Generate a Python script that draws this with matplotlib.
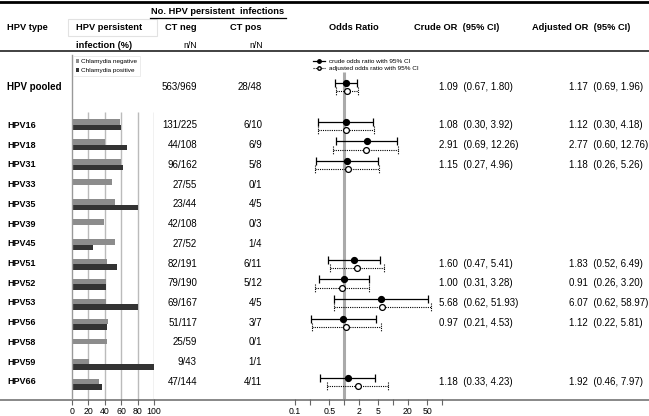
import numpy as np
import matplotlib
matplotlib.use("Agg")
import matplotlib.pyplot as plt
from matplotlib.patches import Rectangle
from matplotlib.lines import Line2D

plt.rcParams['font.family'] = ['Liberation Sans', 'DejaVu Sans']

# ---------------- data ----------------
hpv_types = ["HPV16", "HPV18", "HPV31", "HPV33", "HPV35", "HPV39", "HPV45",
             "HPV51", "HPV52", "HPV53", "HPV56", "HPV58", "HPV59", "HPV66"]
pct_ct_neg = [58.2, 40.7, 59.3, 49.1, 52.3, 38.9, 51.9, 42.9, 41.6, 41.3, 43.6, 42.4, 20.9, 32.6]
pct_ct_pos = [60.0, 66.7, 62.5, 0.0, 80.0, 0.0, 25.0, 54.5, 41.7, 80.0, 42.9, 0.0, 100.0, 36.4]
ct_neg_frac = ["131/225", "44/108", "96/162", "27/55", "23/44", "42/108", "27/52",
               "82/191", "79/190", "69/167", "51/117", "25/59", "9/43", "47/144"]
ct_pos_frac = ["6/10", "6/9", "5/8", "0/1", "4/5", "0/3", "1/4",
               "6/11", "5/12", "4/5", "3/7", "0/1", "1/1", "4/11"]
pooled_label = "HPV pooled"
pooled_neg_frac = "563/969"
pooled_pos_frac = "28/48"

# odds ratios (rows with estimates); pooled first
or_rows = ["HPV pooled", "HPV16", "HPV18", "HPV31", "HPV51", "HPV52", "HPV53", "HPV56", "HPV66"]
crude_or = [1.09, 1.08, 2.91, 1.15, 1.60, 1.00, 5.68, 0.97, 1.18]
crude_lo = [0.67, 0.30, 0.69, 0.27, 0.47, 0.31, 0.62, 0.21, 0.33]
crude_hi = [1.80, 3.92, 12.26, 4.96, 5.41, 3.28, 51.93, 4.53, 4.23]
adj_or = [1.17, 1.12, 2.77, 1.18, 1.83, 0.91, 6.07, 1.12, 1.92]
adj_lo = [0.69, 0.30, 0.60, 0.26, 0.52, 0.26, 0.62, 0.22, 0.46]
adj_hi = [1.96, 4.18, 12.76, 5.26, 6.49, 3.20, 58.97, 5.81, 7.97]

bar_ticks = [0, 20, 40, 60, 80, 100]
or_ticks = [0.1, 0.2, 0.5, 1, 2, 5, 10, 20, 50, 100]
or_ticklabels = ["0.1", "", "0.5", "", "2", "5", "", "20", "50", ""]

# ---------------- layout ----------------
W, H = 649, 416
fig = plt.figure(figsize=(W / 100, H / 100), dpi=100)

row0_px = 125.5     # pixel y of first HPV row (labels / forest)
row_step = 19.72
pooled_idx = -1.95
ax_top_px, ax_bot_px = 55, 399

def make_ylim(r0, step):
    return ((ax_bot_px - r0) / step, (ax_top_px - r0) / step)

ylim = make_ylim(row0_px, row_step)
ylim_bars = make_ylim(124.7, 19.97)

def row_px(i):
    return row0_px + row_step * i

def fig_rect(x0, x1):
    return [x0 / W, 1 - ax_bot_px / H, (x1 - x0) / W, (ax_bot_px - ax_top_px) / H]

idx = np.arange(len(hpv_types))
pos_of = {t: i for i, t in enumerate(hpv_types)}
pos_of[pooled_label] = pooled_idx

# overlay axes (pixel coordinates)
ax0 = fig.add_axes([0, 0, 1, 1])
ax0.set_xlim(0, W)
ax0.set_ylim(H, 0)
ax0.axis('off')

tick_kw = dict(axis='x', length=4, width=0.8, color='#666666', pad=1.8, labelsize=6.3)

# ---------------- bar panel ----------------
axb = fig.add_axes(fig_rect(72, 154))
axb.set_xlim(0, 100)
axb.set_ylim(*ylim_bars)
axb.patch.set_alpha(0)
for s in ['top', 'right', 'bottom']:
    axb.spines[s].set_visible(False)
axb.spines['left'].set_color('#999999')
axb.spines['left'].set_linewidth(1.0)
axb.set_yticks([])
axb.vlines(bar_ticks[1:], -0.65, ylim_bars[0], colors='#bbbbbb', lw=1.0, zorder=0)
gray_c, dark_c = '#8c8c8c', '#333333'
bh = 0.28
axb.barh(idx - 0.14, pct_ct_neg, height=bh, color=gray_c, zorder=2, label='Chlamydia negative')
axb.barh(idx + 0.14, pct_ct_pos, height=bh, color=dark_c, zorder=2, label='Chlamydia positive')
axb.set_xticks(bar_ticks)
axb.set_xticklabels([str(t) for t in bar_ticks])
axb.tick_params(**tick_kw)
leg = axb.legend(loc='upper left', bbox_to_anchor=(0.0, 1.0), fontsize=4.6, frameon=True,
                 handlelength=0.5, handleheight=0.5, borderpad=0.5, labelspacing=0.6,
                 handletextpad=0.3, fancybox=False, borderaxespad=0.15)
leg.get_frame().set_edgecolor('#e4e4e4')
leg.get_frame().set_linewidth(0.6)

# ---------------- forest panel ----------------
px_one, px_dec = 344, 49.0
f_x0, f_x1 = 290, 446
axf = fig.add_axes(fig_rect(f_x0, f_x1))
axf.set_xscale('log')
axf.set_xlim(10 ** ((f_x0 - px_one) / px_dec), 10 ** ((f_x1 - px_one) / px_dec))
axf.set_ylim(*ylim)
axf.patch.set_alpha(0)
for s in axf.spines.values():
    s.set_visible(False)
axf.set_yticks([])
axf.set_xticks(or_ticks)
axf.set_xticklabels(or_ticklabels)
axf.xaxis.set_minor_locator(matplotlib.ticker.NullLocator())
axf.tick_params(**tick_kw)
axf.vlines(1, ylim[1] + 0.85, ylim[0], colors='#aaaaaa', lw=2.2, zorder=0)

ry = np.array([pos_of[r] for r in or_rows])
yc = ry - 0.2
ya = ry + 0.22
cap = 0.2
axf.hlines(yc, crude_lo, crude_hi, colors='black', lw=0.9, zorder=3)
axf.vlines(crude_lo, yc - cap, yc + cap, colors='black', lw=0.9, zorder=3)
axf.vlines(crude_hi, yc - cap, yc + cap, colors='black', lw=0.9, zorder=3)
axf.plot(crude_or, yc, 'o', color='black', ms=4.2, zorder=4)
axf.hlines(ya, adj_lo, adj_hi, colors='black', lw=0.8, linestyles=(0, (1, 1)), zorder=3)
axf.vlines(adj_lo, ya - cap, ya + cap, colors='black', lw=0.8, linestyles=(0, (1, 1)), zorder=3)
axf.vlines(adj_hi, ya - cap, ya + cap, colors='black', lw=0.8, linestyles=(0, (1, 1)), zorder=3)
axf.plot(adj_or, ya, 'o', mfc='white', mec='black', mew=0.9, ms=4.2, zorder=4)

h1 = Line2D([], [], color='black', lw=0.9, marker='o', ms=2.5)
h2 = Line2D([], [], color='black', lw=0.8, ls=(0, (1, 1)), marker='o', ms=2.5, mfc='white')
axf.legend([h1, h2], ['crude odds ratio with 95% CI', 'adjusted odds ratio with 95% CI'],
           loc='upper left', bbox_to_anchor=(0.12, 1.0), fontsize=4.6, frameon=False,
           handlelength=2.0, labelspacing=0.15, borderpad=0.1, handletextpad=0.6)

# ---------------- lines ----------------
ax0.plot([0, W], [2, 2], color='black', lw=2.0)
ax0.plot([0, W], [50.5, 50.5], color='#333333', lw=1.3)
ax0.plot([0, W], [399.5, 399.5], color='#888888', lw=1.4)
ax0.add_patch(Rectangle((68, 19), 89, 17, fill=False, ec='#e2e2e2', lw=0.8))

# ---------------- header text ----------------
hf = dict(fontsize=6.7, fontweight='bold', va='center')
ax0.text(7, 27, "HPV type", ha='left', **hf)
ax0.text(76, 27, "HPV persistent", ha='left', **hf)
ax0.text(76, 46, "infection (%)", ha='left', **hf)
ax0.text(218, 12, "No. HPV persistent  infections", ha='center', **hf)
ax0.plot([150, 286], [17.5, 17.5], color='black', lw=0.9)
ax0.text(181, 27, "CT neg", ha='center', **hf)
ax0.text(246, 27, "CT pos", ha='center', **hf)
ax0.text(197, 46, "n/N", ha='right', va='center', fontsize=6.3)
ax0.text(263, 46, "n/N", ha='right', va='center', fontsize=6.3)
ax0.text(354, 27, "Odds Ratio", ha='center', **hf)
ax0.text(414, 27, "Crude OR  (95% CI)", ha='left', **hf)
ax0.text(532, 27, "Adjusted OR  (95% CI)", ha='left', **hf)

# ---------------- row text ----------------
rf = dict(fontsize=7, va='center')
ax0.text(7, row_px(pooled_idx), pooled_label, ha='left', fontweight='bold', **rf)
ax0.text(197, row_px(pooled_idx), pooled_neg_frac, ha='right', **rf)
ax0.text(262, row_px(pooled_idx), pooled_pos_frac, ha='right', **rf)
for i, t in enumerate(hpv_types):
    y = row_px(i)
    ax0.text(7, y, t, ha='left', fontweight='bold', fontsize=6.5, va='center')
    ax0.text(197, y, ct_neg_frac[i], ha='right', **rf)
    ax0.text(262, y, ct_pos_frac[i], ha='right', **rf)
for r, c, cl, ch, a, al, ah in zip(or_rows, crude_or, crude_lo, crude_hi, adj_or, adj_lo, adj_hi):
    y = row_px(pos_of[r])
    ax0.text(439, y, f"{c:.2f}  ({cl:.2f}, {ch:.2f})", ha='left', **rf)
    ax0.text(569, y, f"{a:.2f}  ({al:.2f}, {ah:.2f})", ha='left', **rf)

fig.savefig("out.png", dpi=100)
